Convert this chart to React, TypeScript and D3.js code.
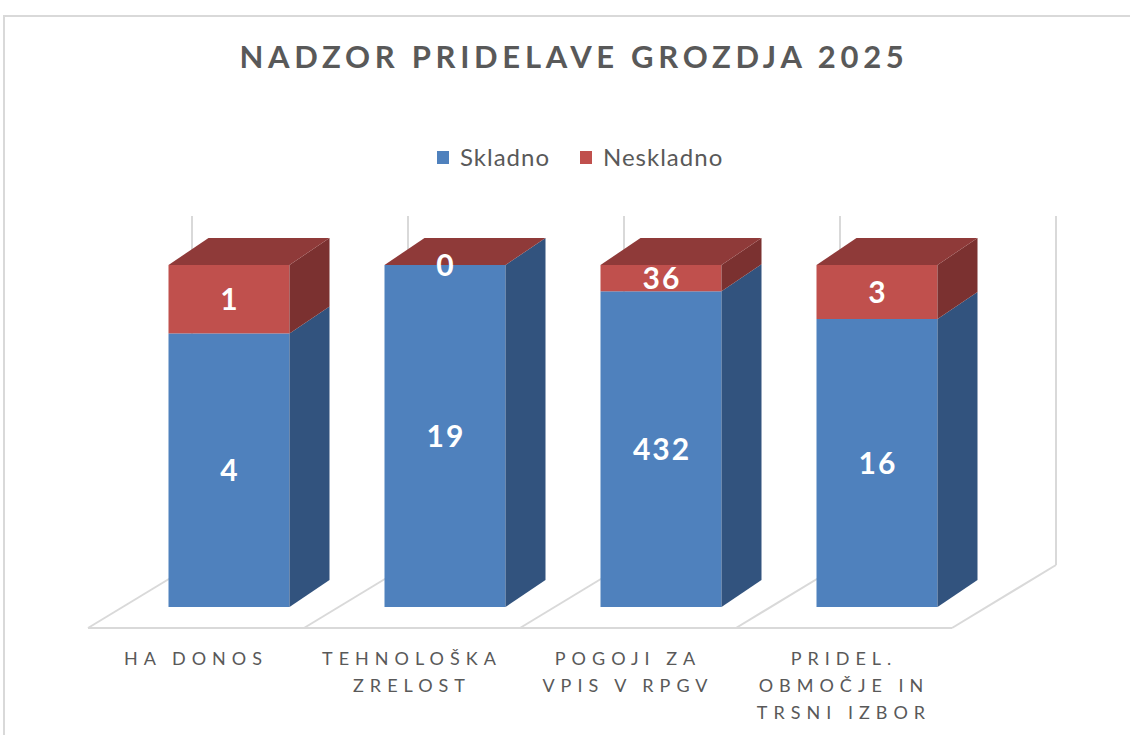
import React, { useEffect, useRef } from 'react';
import * as d3 from 'd3';

const categories = ['HA DONOS', 'TEHNOLOŠKA ZRELOST', 'POGOJI ZA VPIS V RPGV', 'PRIDEL. OBMOČJE IN TRSNI IZBOR'];
const categoryLines = [['HA DONOS'], ['TEHNOLOŠKA', 'ZRELOST'], ['POGOJI ZA', 'VPIS V RPGV'], ['PRIDEL.', 'OBMOČJE IN', 'TRSNI IZBOR']];
const skladno = [4, 19, 432, 16];
const neskladno = [1, 0, 36, 3];
const seriesNames = ['Skladno', 'Neskladno'];
const title = 'NADZOR PRIDELAVE GROZDJA 2025';

const FRONT = ['#4F81BD', '#C0504D'];
const SIDE = ['#32537E', '#7B3130'];
const TOP = ['#3C6596', '#8F3A39'];
const GRID = '#d9d9d9';
const TEXT = '#595959';
const FONT = 'Lato, "Open Sans", sans-serif';

const App = () => {
  const svgRef = useRef<SVGSVGElement>(null);

  useEffect(() => {
    const width = 1130;
    const height = 735;
    const svg = d3.select(svgRef.current);
    svg.selectAll('*').remove();
    svg.attr('width', width).attr('height', height);

    // chart frame (cut off at right and bottom like the screenshot)
    svg.append('rect')
      .attr('x', 4).attr('y', 16)
      .attr('width', 1300).attr('height', 900)
      .attr('fill', '#fff')
      .attr('stroke', GRID).attr('stroke-width', 2);

    // floor front edge and 3d offsets
    const floorY = 628;
    const floorDepth = { dx: 104, dy: -63 };
    const barShift = { dx: 33, dy: -21 };
    const barDepth = { dx: 40, dy: -27 };
    const wallTop = 216;

    const x = d3.scaleBand<string>().domain(categories).range([88, 952]).paddingInner(0).paddingOuter(0);
    const barW = 121;
    const barBottom = floorY + barShift.dy;
    const y = d3.scaleLinear().domain([0, 1]).range([barBottom, 265]);

    const table = categories.map((c, i) => ({ cat: c, Skladno: skladno[i], Neskladno: neskladno[i] }));
    const stack = d3.stack<any>().keys(seriesNames).offset(d3.stackOffsetExpand);
    const series = stack(table);

    const bounds = categories.map(c => x(c)!).concat([x.range()[1]]);

    // back wall gridlines
    svg.append('g').selectAll('line')
      .data(bounds)
      .enter().append('line')
      .attr('x1', d => d + floorDepth.dx).attr('x2', d => d + floorDepth.dx)
      .attr('y1', wallTop).attr('y2', floorY + floorDepth.dy)
      .attr('stroke', GRID).attr('stroke-width', 2);

    // floor diagonals
    svg.append('g').selectAll('line')
      .data(bounds)
      .enter().append('line')
      .attr('x1', d => d).attr('y1', floorY)
      .attr('x2', d => d + floorDepth.dx).attr('y2', floorY + floorDepth.dy)
      .attr('stroke', GRID).attr('stroke-width', 2);

    svg.append('line')
      .attr('x1', x.range()[0]).attr('x2', x.range()[1])
      .attr('y1', floorY).attr('y2', floorY)
      .attr('stroke', GRID).attr('stroke-width', 2);

    // bars
    const bars = svg.append('g');
    categories.forEach((c, i) => {
      const cx = x(c)! + x.bandwidth() / 2 + barShift.dx;
      const x0 = cx - barW / 2;
      const x1 = cx + barW / 2;
      series.forEach((s, si) => {
        const yTop = y(s[i][1]);
        const yBot = y(s[i][0]);
        bars.append('rect')
          .attr('x', x0).attr('y', yTop)
          .attr('width', barW).attr('height', Math.max(0, yBot - yTop))
          .attr('fill', FRONT[si]);
        bars.append('path')
          .attr('d', `M${x1},${yBot}L${x1},${yTop}L${x1 + barDepth.dx},${yTop + barDepth.dy}L${x1 + barDepth.dx},${yBot + barDepth.dy}Z`)
          .attr('fill', SIDE[si]);
      });
      const top = series[series.length - 1];
      const yT = y(top[i][1]);
      bars.append('path')
        .attr('d', `M${x0},${yT}L${x1},${yT}L${x1 + barDepth.dx},${yT + barDepth.dy}L${x0 + barDepth.dx},${yT + barDepth.dy}Z`)
        .attr('fill', TOP[series.length - 1]);

      // data labels
      const values = [skladno[i], neskladno[i]];
      series.forEach((s, si) => {
        const ym = (y(s[i][0]) + y(s[i][1])) / 2;
        bars.append('text')
          .attr('x', cx + 1).attr('y', ym)
          .attr('dy', '0.36em')
          .attr('text-anchor', 'middle')
          .style('font-family', FONT)
          .style('font-size', '30px')
          .style('font-weight', 'bold')
          .style('letter-spacing', '2px')
          .attr('fill', '#fff')
          .text(values[si]);
      });
    });

    // category labels
    const labels = svg.append('g');
    categories.forEach((c, i) => {
      const t = labels.append('text')
        .attr('text-anchor', 'middle')
        .style('font-family', FONT)
        .style('font-size', '18px')
        .style('letter-spacing', '6px')
        .attr('fill', TEXT);
      categoryLines[i].forEach((line, li) => {
        t.append('tspan')
          .attr('x', x(c)! + x.bandwidth() / 2)
          .attr('y', 665 + li * 27)
          .text(line);
      });
    });

    // title
    svg.append('text')
      .attr('x', 574).attr('y', 68)
      .attr('text-anchor', 'middle')
      .style('font-family', FONT)
      .style('font-size', '31px')
      .style('font-weight', 'bold')
      .style('letter-spacing', '4.7px')
      .attr('fill', TEXT)
      .text(title);

    // legend
    const legendX = [437, 580];
    const legend = svg.append('g');
    seriesNames.forEach((name, i) => {
      legend.append('rect')
        .attr('x', legendX[i]).attr('y', 151)
        .attr('width', 12).attr('height', 13)
        .attr('fill', FRONT[i]);
      legend.append('text')
        .attr('x', legendX[i] + 23).attr('y', 166)
        .style('font-family', FONT)
        .style('font-size', '24px')
        .style('letter-spacing', '1px')
        .attr('fill', TEXT)
        .text(name);
    });
  }, []);

  return (
    <div style={{ position: 'absolute', left: 0, top: 0 }}>
      <svg ref={svgRef} style={{ display: 'block' }}></svg>
    </div>
  );
};

export default App;
